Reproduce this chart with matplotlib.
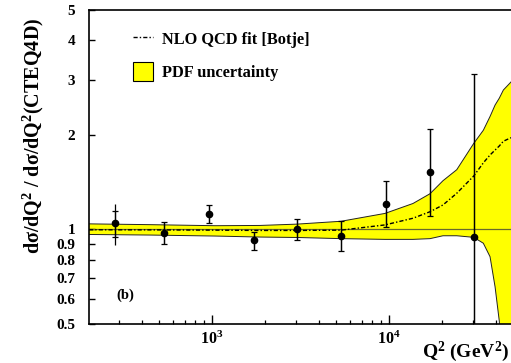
import matplotlib
matplotlib.use('Agg')
import matplotlib.pyplot as plt
from matplotlib.lines import Line2D
from matplotlib.patches import Patch
from matplotlib.ticker import FixedLocator, FixedFormatter, LogLocator, NullFormatter, NullLocator

# ---------------- data ----------------
# measured points
q2_points = [284, 538, 962, 1720, 3034, 5354, 9570, 17100, 30100]
ratio = [1.049, 0.976, 1.122, 0.926, 1.001, 0.953, 1.208, 1.524, 0.944]
tot_hi = [1.205, 1.054, 1.194, 0.984, 1.078, 1.067, 1.427, 2.085, 3.126]
tot_lo = [0.893, 0.897, 1.049, 0.860, 0.924, 0.854, 1.018, 1.104, 0.30]
stat_hi = [1.147, 1.054, 1.194, 0.984, 1.078, 1.067, 1.427, 2.085, 3.126]
stat_lo = [0.948, 0.897, 1.049, 0.860, 0.924, 0.854, 1.018, 1.104, 0.30]

# PDF uncertainty band and NLO fit curve
band_q2 = [202, 446, 1040, 1866, 3020, 5355, 9490, 13660, 17050, 20180,
           24130, 30100, 34100, 37210, 39720, 41980, 44240, 48870]
band_hi = [1.042, 1.036, 1.028, 1.030, 1.040, 1.062, 1.125, 1.21, 1.30, 1.43,
           1.55, 1.88, 2.07, 2.29, 2.49, 2.62, 2.78, 2.95]
band_lo = [0.964, 0.960, 0.953, 0.946, 0.943, 0.935, 0.930, 0.930, 0.935, 0.955,
           0.955, 0.944, 0.904, 0.819, 0.657, 0.51, 0.30, 0.30]
fit = [0.998, 0.997, 0.995, 0.993, 0.993, 0.995, 1.034, 1.086, 1.139, 1.197,
       1.304, 1.48, 1.63, 1.727, 1.79, 1.845, 1.91, 1.96]

yticks = [0.5, 0.6, 0.7, 0.8, 0.9, 1, 2, 3, 4, 5]
ytick_labels = ['0.5', '0.6', '0.7', '0.8', '0.9', '1', '2', '3', '4', '5']
xticks = [1e3, 1e4]
xtick_labels = [r'$\mathbf{10^{3}}$', r'$\mathbf{10^{4}}$']

# ---------------- style ----------------
plt.rcParams['font.family'] = ['Liberation Serif', 'DejaVu Serif']
plt.rcParams['font.weight'] = 'bold'
plt.rcParams['mathtext.fontset'] = 'custom'
plt.rcParams['mathtext.rm'] = 'Liberation Serif:bold'
plt.rcParams['mathtext.it'] = 'Liberation Serif:bold:italic'
plt.rcParams['mathtext.bf'] = 'Liberation Serif:bold'

fig = plt.figure(figsize=(5.11, 3.63), dpi=100)
ax = fig.add_axes([89/511, 39/363, 422/511, 314/363])
ax.set_xscale('log')
ax.set_yscale('log')
ax.set_xlim(202, 48870)
ax.set_ylim(0.5, 5)

dash = (3, 1.5, 1, 1.5)

ax.fill_between(band_q2, band_lo, band_hi, facecolor='#ffff00',
                edgecolor='none', zorder=1)
ax.plot(band_q2, band_hi, color='#222222', lw=0.7, zorder=2)
ax.plot(band_q2, band_lo, color='#222222', lw=0.7, zorder=2)
ax.axhline(1.0, color='#6a6a2a', lw=0.9, zorder=2.5)
ax.plot(band_q2, fit, color='k', lw=1.0, dashes=dash, zorder=3)

lo_err_t = [r - l for r, l in zip(ratio, tot_lo)]
hi_err_t = [h - r for r, h in zip(ratio, tot_hi)]
lo_err_s = [r - l for r, l in zip(ratio, stat_lo)]
hi_err_s = [h - r for r, h in zip(ratio, stat_hi)]
ax.errorbar(q2_points, ratio, yerr=[lo_err_t, hi_err_t], fmt='none',
            ecolor='k', elinewidth=0.9, capsize=0, zorder=4)
ax.errorbar(q2_points, ratio, yerr=[lo_err_s, hi_err_s], fmt='o', color='k',
            ms=4.5, ecolor='k', elinewidth=0.9, capsize=2.3, capthick=0.9,
            zorder=5)

# axes styling
ax.spines['right'].set_visible(False)
for s in ['left', 'bottom', 'top']:
    ax.spines[s].set_linewidth(1.2)
ax.yaxis.set_major_locator(FixedLocator(yticks))
ax.yaxis.set_major_formatter(FixedFormatter(ytick_labels))
ax.yaxis.set_minor_locator(NullLocator())
ax.yaxis.set_minor_formatter(NullFormatter())
ax.xaxis.set_major_locator(FixedLocator(xticks))
ax.xaxis.set_major_formatter(FixedFormatter(xtick_labels))
ax.xaxis.set_minor_locator(LogLocator(base=10, subs=range(2, 10)))
ax.xaxis.set_minor_formatter(NullFormatter())
ax.tick_params(axis='y', which='major', direction='in', length=4.3, width=1.0,
               pad=10, labelsize=11, right=False)
ax.tick_params(axis='x', which='major', direction='in', length=6.5, width=1.0,
               pad=5, labelsize=11.5, top=False)
ax.tick_params(axis='x', which='minor', direction='in', length=3.2, width=0.9,
               top=False)

# legend
handles = [Line2D([], [], color='k', lw=1.0, dashes=dash),
           Patch(facecolor='#ffff00', edgecolor='k', lw=0.8)]
ax.legend(handles=handles, labels=['NLO QCD fit [Botje]', 'PDF uncertainty'],
          loc='upper left', bbox_to_anchor=(0.104, 0.937), frameon=False,
          borderpad=0, borderaxespad=0, handlelength=1.2, handleheight=1.35,
          handletextpad=0.55, labelspacing=0.85,
          prop={'family': 'Liberation Serif', 'weight': 'bold', 'size': 11.8})

ax.text(0.085, 0.092, '(b)', transform=ax.transAxes, ha='center', va='center',
        fontsize=10.5, fontweight='bold')

fig.text(33/511, 1 - 135.5/363, 'dσ/dQ$^2$ / dσ/dQ$^2$(CTEQ4D)', rotation=90,
         ha='center', va='center', fontsize=14.5, fontweight='bold')
fig.text(509/511, 1 - 352/363, 'Q$^2$ (GeV$^2$)',
         ha='right', va='center', fontsize=14, fontweight='bold')

fig.savefig('out.png', dpi=100)
